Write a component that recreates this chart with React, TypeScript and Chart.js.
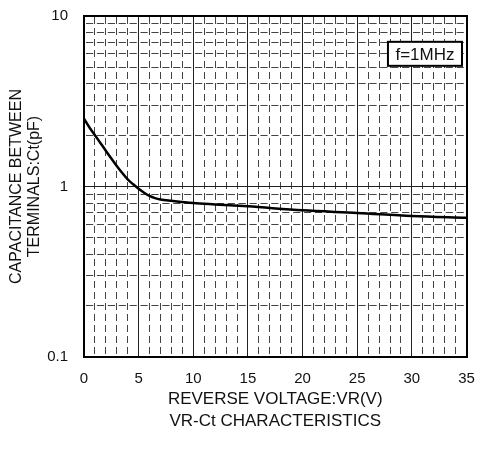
import React, { useEffect, useRef } from 'react';
import { Chart, registerables } from 'chart.js';

Chart.register(...registerables);

// Curve: reverse voltage (V) vs capacitance between terminals (pF)
const VOLTAGE = [0, 0.5, 1, 1.5, 2, 2.5, 3, 3.5, 4, 4.5, 5, 5.5, 6, 6.5, 7, 8, 10, 12, 15, 20, 25, 30, 35];
const CAPACITANCE = [2.5, 2.22, 2.0, 1.8, 1.62, 1.46, 1.32, 1.2, 1.1, 1.03, 0.97, 0.92, 0.88, 0.855, 0.84, 0.825, 0.8, 0.785, 0.765, 0.725, 0.7, 0.672, 0.655];

const X_TICKS = [0, 5, 10, 15, 20, 25, 30, 35];
const X_MINOR = [1, 2, 3, 4, 6, 7, 8, 9, 11, 12, 13, 14, 16, 17, 18, 19, 21, 22, 23, 24, 26, 27, 28, 29, 31, 32, 33, 34];
const Y_TICKS = [0.1, 1, 10];
const Y_MINOR = [0.2, 0.3, 0.4, 0.5, 0.6, 0.7, 0.8, 0.9, 2, 3, 4, 5, 6, 7, 8, 9];

const X_TITLE = ['REVERSE VOLTAGE:VR(V)', 'VR-Ct CHARACTERISTICS'];
const Y_TITLE = ['CAPACITANCE BETWEEN', 'TERMINALS:Ct(pF)'];
const NOTE_TEXT = 'f=1MHz';
const NOTE_X = 31.2;
const NOTE_Y = 6.0;

const FAMILY = "'Liberation Sans', Arial, sans-serif";
const TEXT = '#111';

const notePlugin = {
  id: 'noteBox',
  afterDatasetsDraw(chart: any) {
    const { ctx, scales } = chart;
    const cx = scales.x.getPixelForValue(NOTE_X);
    const cy = scales.y.getPixelForValue(NOTE_Y);
    ctx.save();
    ctx.font = `17px ${FAMILY}`;
    const w = ctx.measureText(NOTE_TEXT).width + 15;
    const h = 24;
    ctx.fillStyle = '#fff';
    ctx.fillRect(cx - w / 2, cy - h / 2, w, h);
    ctx.lineWidth = 2;
    ctx.strokeStyle = '#000';
    ctx.strokeRect(cx - w / 2, cy - h / 2, w, h);
    ctx.fillStyle = TEXT;
    ctx.textAlign = 'center';
    ctx.textBaseline = 'middle';
    ctx.fillText(NOTE_TEXT, cx, cy + 1);
    ctx.restore();
  },
};

const noOverhang = (s: any) => {
  s.paddingLeft = 0;
  s.paddingRight = 0;
  s.paddingTop = 0;
  s.paddingBottom = 0;
};

export default function App() {
  const ref = useRef<HTMLCanvasElement | null>(null);

  useEffect(() => {
    if (!ref.current) return;
    const chart = new Chart(ref.current, {
      type: 'line',
      data: {
        datasets: [
          {
            data: VOLTAGE.map((v, i) => ({ x: v, y: CAPACITANCE[i] })),
            borderColor: '#000',
            borderWidth: 2.5,
            pointRadius: 0,
            cubicInterpolationMode: 'monotone',
            fill: false,
            xAxisID: 'x',
            yAxisID: 'y',
          },
        ],
      },
      options: {
        responsive: false,
        animation: false,
        devicePixelRatio: 1,
        layout: { padding: 0 },
        plugins: { legend: { display: false }, tooltip: { enabled: false } },
        scales: {
          x: {
            type: 'linear',
            axis: 'x',
            position: 'bottom',
            min: 0,
            max: 35,
            afterBuildTicks: (s: any) => { s.ticks = X_TICKS.map((v) => ({ value: v })); },
            afterFit: (s: any) => { s.height = 102; noOverhang(s); },
            grid: { color: '#222', lineWidth: 1, drawTicks: false },
            border: { display: true, color: '#000', width: 2 },
            ticks: {
              padding: 13,
              color: TEXT,
              autoSkip: false,
              maxRotation: 0,
              font: { size: 15, family: FAMILY },
              callback: (v: any) => String(v),
            },
            title: {
              display: true,
              text: X_TITLE,
              color: TEXT,
              font: { size: 17, family: FAMILY, lineHeight: 1.3 },
              padding: { top: 0, bottom: 27 },
            },
          },
          x2: {
            type: 'linear',
            axis: 'x',
            position: 'top',
            min: 0,
            max: 35,
            afterBuildTicks: (s: any) => { s.ticks = X_MINOR.map((v) => ({ value: v })); },
            afterFit: (s: any) => { s.height = 16; noOverhang(s); },
            grid: { color: '#444', lineWidth: 1, drawTicks: false },
            border: { display: true, color: '#000', width: 2, dash: [7, 4] },
            ticks: { display: false },
          },
          y: {
            type: 'logarithmic',
            axis: 'y',
            position: 'left',
            min: 0.1,
            max: 10,
            afterBuildTicks: (s: any) => { s.ticks = Y_TICKS.map((v) => ({ value: v })); },
            afterFit: (s: any) => { s.width = 84; noOverhang(s); },
            grid: {
              color: (c: any) => (c.tick && c.tick.value === 1 ? '#222' : 'rgba(0,0,0,0)'),
              lineWidth: 1,
              drawTicks: false,
            },
            border: { display: true, color: '#000', width: 2 },
            ticks: {
              padding: 16,
              color: TEXT,
              autoSkip: false,
              font: { size: 15, family: FAMILY },
              callback: (v: any) => String(v),
            },
            title: {
              display: true,
              text: Y_TITLE,
              color: TEXT,
              font: { size: 16, family: FAMILY, lineHeight: 1.12 },
              padding: { top: 8, bottom: 0 },
            },
          },
          y2: {
            type: 'logarithmic',
            axis: 'y',
            position: 'right',
            min: 0.1,
            max: 10,
            afterBuildTicks: (s: any) => { s.ticks = Y_MINOR.map((v) => ({ value: v })); },
            afterFit: (s: any) => { s.width = 10.5; noOverhang(s); },
            grid: { color: '#444', lineWidth: 1, drawTicks: false },
            border: { display: true, color: '#000', width: 2, dash: [7.2, 3.7], dashOffset: -2 },
            ticks: { display: false },
          },
        },
      },
      plugins: [notePlugin],
    } as any);
    return () => chart.destroy();
  }, []);

  return (
    <div style={{ position: 'fixed', left: 0, top: 0, width: 477, height: 459, background: '#fff' }}>
      <canvas ref={ref} width={477} height={459} style={{ display: 'block' }} />
    </div>
  );
}
